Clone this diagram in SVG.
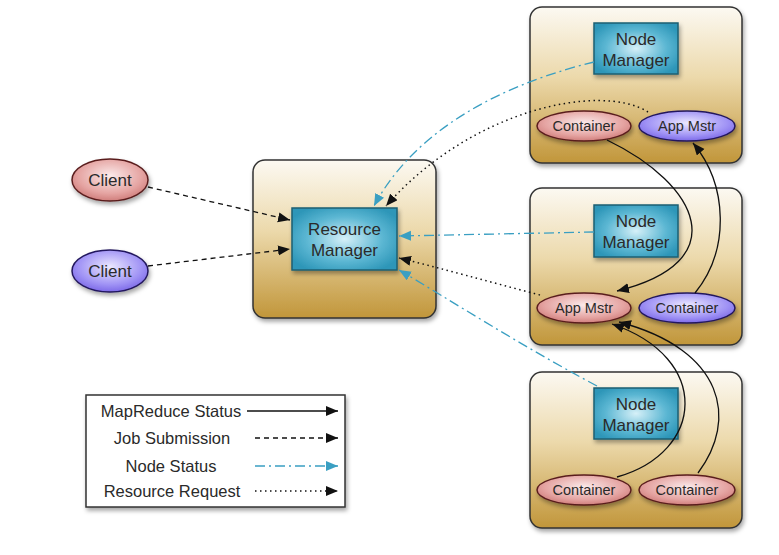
<svg xmlns="http://www.w3.org/2000/svg" width="779" height="555" viewBox="0 0 779 555">
<defs>
<linearGradient id="gBox" x1="0" y1="0" x2="0" y2="1">
<stop offset="0" stop-color="#fcf9f2"/>
<stop offset="0.45" stop-color="#ecd9ab"/>
<stop offset="1" stop-color="#c1963a"/>
</linearGradient>
<radialGradient id="gNM" cx="0.5" cy="0.5" r="0.6">
<stop offset="0" stop-color="#d6f0f8"/>
<stop offset="0.6" stop-color="#5cb7d3"/>
<stop offset="1" stop-color="#2d96b8"/>
</radialGradient>
<radialGradient id="gRed" cx="0.5" cy="0.4" r="0.6">
<stop offset="0" stop-color="#fbeaea"/>
<stop offset="0.7" stop-color="#e5a4a2"/>
<stop offset="1" stop-color="#d07e7c"/>
</radialGradient>
<radialGradient id="gBlue" cx="0.5" cy="0.4" r="0.6">
<stop offset="0" stop-color="#ebe8ff"/>
<stop offset="0.7" stop-color="#a093f5"/>
<stop offset="1" stop-color="#7d6ae8"/>
</radialGradient>
<filter id="sh" x="-20%" y="-20%" width="150%" height="150%">
<feDropShadow dx="1.5" dy="3" stdDeviation="2" flood-color="#000" flood-opacity="0.35"/>
</filter>
<marker id="ak" markerUnits="userSpaceOnUse" markerWidth="14" markerHeight="12" refX="12" refY="5" orient="auto">
<path d="M0,0 L12,5 L0,10 Z" fill="#111"/>
</marker>
<marker id="ab" markerUnits="userSpaceOnUse" markerWidth="14" markerHeight="12" refX="12" refY="5" orient="auto">
<path d="M0,0 L12,5 L0,10 Z" fill="#3a9fc2"/>
</marker>
</defs>
<style>
.box{fill:url(#gBox);stroke:#333;stroke-width:1.5;filter:url(#sh)}
.nm{fill:url(#gNM);stroke:#1d5f73;stroke-width:1.5;filter:url(#sh)}
.er{fill:url(#gRed);stroke:#5a1e1e;stroke-width:1.5;filter:url(#sh)}
.eb{fill:url(#gBlue);stroke:#23185e;stroke-width:1.5;filter:url(#sh)}
text{font-family:"Liberation Sans",Arial,sans-serif;fill:#2a2a2a;text-anchor:middle}
.t17{font-size:17px}
.t16{font-size:16.5px}
.t14{font-size:14.5px}
.ms{fill:none;stroke:#111;stroke-width:1.3;marker-end:url(#ak)}
.job{fill:none;stroke:#111;stroke-width:1.3;stroke-dasharray:5,4;marker-end:url(#ak)}
.ns{fill:none;stroke:#3a9fc2;stroke-width:1.3;stroke-dasharray:10,4,2,4;marker-end:url(#ab)}
.rr{fill:none;stroke:#111;stroke-width:1.5;stroke-dasharray:1.5,3.5;marker-end:url(#ak)}
</style>

<g id="host1">
<rect class="box" x="530" y="7" width="212" height="156" rx="12"/>
</g>
<g id="host2">
<rect class="box" x="530" y="188" width="212" height="157" rx="12"/>
</g>
<g id="host3">
<rect class="box" x="530" y="372" width="212" height="156" rx="12"/>
</g>
<g id="rm-host">
<rect class="box" x="253" y="160" width="183" height="158" rx="12"/>
</g>

<g id="resource-manager">
<rect class="nm" x="292" y="208" width="105" height="62"/>
<text class="t17" x="344.5" y="235">Resource</text>
<text class="t17" x="344.5" y="256">Manager</text>
</g>
<g id="nm1">
<rect class="nm" x="594" y="23" width="84" height="51"/>
<text class="t17" x="636" y="45">Node</text>
<text class="t17" x="636" y="66">Manager</text>
</g>
<g id="nm2">
<rect class="nm" x="594" y="205" width="84" height="52"/>
<text class="t17" x="636" y="227">Node</text>
<text class="t17" x="636" y="248">Manager</text>
</g>
<g id="nm3">
<rect class="nm" x="594" y="388" width="84" height="51"/>
<text class="t17" x="636" y="410">Node</text>
<text class="t17" x="636" y="431">Manager</text>
</g>

<g id="client1">
<ellipse class="er" cx="110" cy="180" rx="38" ry="21"/>
<text class="t17" x="110" y="186">Client</text>
</g>
<g id="client2">
<ellipse class="eb" cx="110" cy="271" rx="38" ry="21"/>
<text class="t17" x="110" y="277">Client</text>
</g>

<g id="container-1a">
<ellipse class="er" cx="584" cy="126" rx="47" ry="15"/>
<text class="t14" x="584" y="131">Container</text>
</g>
<g id="appmstr-1">
<ellipse class="eb" cx="687" cy="126" rx="48" ry="15"/>
<text class="t14" x="687" y="131">App Mstr</text>
</g>
<g id="appmstr-2">
<ellipse class="er" cx="584" cy="308" rx="47" ry="15"/>
<text class="t14" x="584" y="313">App Mstr</text>
</g>
<g id="container-2b">
<ellipse class="eb" cx="687" cy="308" rx="48" ry="15"/>
<text class="t14" x="687" y="313">Container</text>
</g>
<g id="container-3a">
<ellipse class="er" cx="584" cy="490" rx="47" ry="15"/>
<text class="t14" x="584" y="495">Container</text>
</g>
<g id="container-3b">
<ellipse class="er" cx="687" cy="490" rx="48" ry="15"/>
<text class="t14" x="687" y="495">Container</text>
</g>

<g id="connectors">
<path class="job" d="M148,187 L290,220"/>
<path class="job" d="M148,266 L290,249"/>
<path class="ns" d="M594,62 C520,80 420,120 374,206"/>
<path class="rr" d="M648,112 C600,82 470,110 386,206"/>
<path class="ns" d="M594,232 L399,236"/>
<path class="rr" d="M540,295 C490,282 440,268 399,258"/>
<path class="ns" d="M597,386 C520,345 450,300 399,270"/>
<path class="ms" d="M607,140 C700,185 735,262 617,291"/>
<path class="ms" d="M695,293 C730,250 728,185 693,143"/>
<path class="ms" d="M617,477 C705,452 712,358 612,324"/>
<path class="ms" d="M698,473 C738,420 725,350 619,322"/>
</g>

<g id="legend">
<rect x="86" y="395" width="259" height="112" fill="#fff" stroke="#333" stroke-width="1.5" filter="url(#sh)"/>
<text class="t16" x="171" y="417">MapReduce Status</text>
<text class="t16" x="172" y="444">Job Submission</text>
<text class="t16" x="171" y="472">Node Status</text>
<text class="t16" x="172" y="497">Resource Request</text>
<path class="ms" d="M247,411 L338,411"/>
<path class="job" d="M255,438 L338,438"/>
<path class="ns" d="M255,466 L338,466"/>
<path class="rr" d="M255,491 L338,491"/>
</g>
</svg>
